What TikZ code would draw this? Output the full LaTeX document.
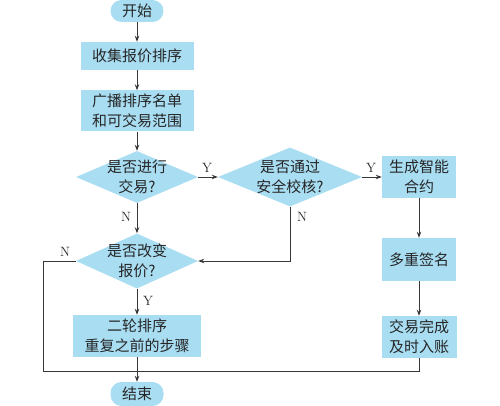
\documentclass[tikz,border=0pt]{standalone}
\usepackage{fontspec}
\newfontfamily\cjk{Noto Sans CJK SC}
\usetikzlibrary{arrows.meta,shapes.geometric}
\definecolor{fillblue}{RGB}{168,221,242}
\definecolor{linegray}{RGB}{55,55,55}
\begin{document}
\begin{tikzpicture}[x=1pt,y=-1pt,
  box/.style={rectangle,fill=fillblue,inner sep=0pt,align=center,font=\cjk\fontsize{15}{19.5}\selectfont,text=black!85},
  term/.style={rectangle,rounded corners=11pt,fill=fillblue,inner sep=0pt,font=\cjk\fontsize{15}{19.5}\selectfont,text=black!85},
  dia/.style={diamond,fill=fillblue,inner sep=0pt},
  diatext/.style={align=center,inner sep=0pt,font=\cjk\fontsize{15}{19.5}\selectfont,text=black!85},
  conn/.style={draw=linegray,line width=0.9pt},
  arr/.style={conn,-{Stealth[length=6pt,width=4.5pt]}},
  lab/.style={font=\fontsize{13.5}{13.5}\selectfont,text=black!85,inner sep=0pt}]
\useasboundingbox (0,0) rectangle (500,406);
% nodes
\node[term,minimum width=53pt,minimum height=22pt] (s) at (137,11) {开始};
\node[box,minimum width=113pt,minimum height=28pt] (b1) at (137,56) {收集报价排序};
\node[box,minimum width=113pt,minimum height=41pt] (b2) at (137,111) {广播排序名单\\和可交易范围};
\node[dia,minimum width=122pt,minimum height=52pt] (d1) at (137,177) {};
\node[diatext] (d1t) at (d1) {是否进行\\交易?};
\node[dia,minimum width=144pt,minimum height=59pt] (d2) at (290,177) {};
\node[diatext] (d2t) at (d2) {是否通过\\安全校核?};
\node[box,minimum width=74pt,minimum height=42pt] (b3) at (419,177) {生成智能\\合约};
\node[box,minimum width=74pt,minimum height=43pt] (b4) at (419,259.5) {多重签名};
\node[box,minimum width=75pt,minimum height=42pt] (b5) at (419,337) {交易完成\\及时入账};
\node[dia,minimum width=122pt,minimum height=55pt] (d3) at (137,261) {};
\node[diatext] (d3t) at (d3) {是否改变\\报价?};
\node[box,minimum width=128pt,minimum height=42pt] (b6) at (137,336) {二轮排序\\重复之前的步骤};
\node[term,minimum width=53pt,minimum height=24pt] (e) at (137,394) {结束};
% coordinates
\coordinate (jl) at (43,371);
\coordinate (jr) at (419,371);
\coordinate (k2) at (290,261);
% connectors
\draw[arr] (s) -- (b1);
\draw[arr] (b1) -- (b2);
\draw[arr] (b2) -- (d1.north);
\draw[arr] (d1.east) -- (d2.west);
\draw[arr] (d2.east) -- (b3.west);
\draw[arr] (b3) -- (b4);
\draw[arr] (b4) -- (b5);
\draw[arr] (d1.south) -- (d3.north);
\draw[arr] (d2.south) -- (k2) -- (d3.east);
\draw[arr] (d3.south) -- (b6.north);
\draw[conn] (d3.west) -| (jl) -- (jr) -- (b5.south);
\draw[arr] (b6.south) -- (e.north);
% labels
\node[lab] (ly1) at (207,168) {Y};
\node[lab] (ly2) at (371,168) {Y};
\node[lab] (ln1) at (126,217) {N};
\node[lab] (ln2) at (302,217) {N};
\node[lab] (ln3) at (65,252) {N};
\node[lab] (ly3) at (148,301) {Y};
\end{tikzpicture}
\end{document}
